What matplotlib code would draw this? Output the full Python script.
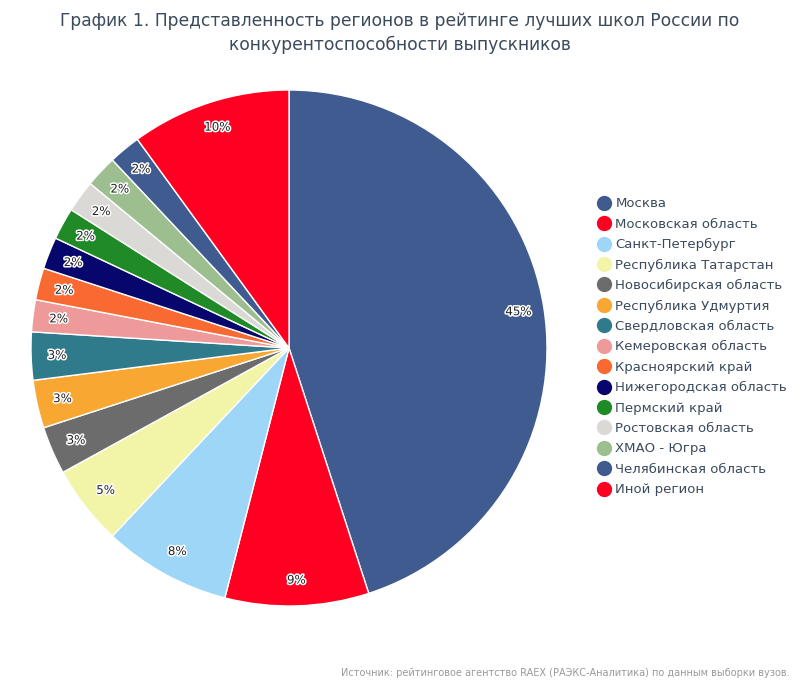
import matplotlib
matplotlib.use("Agg")
import matplotlib.pyplot as plt
import matplotlib.patheffects as pe
from matplotlib.lines import Line2D

# --- Data ---
regions = [
    "Москва", "Московская область", "Санкт-Петербург", "Республика Татарстан",
    "Новосибирская область", "Республика Удмуртия", "Свердловская область",
    "Кемеровская область", "Красноярский край", "Нижегородская область",
    "Пермский край", "Ростовская область", "ХМАО - Югра",
    "Челябинская область", "Иной регион",
]
shares = [45, 9, 8, 5, 3, 3, 3, 2, 2, 2, 2, 2, 2, 2, 10]
colors = [
    "#3f5b8f", "#ff0022", "#9dd6f7", "#f2f4a8", "#6c6c6c", "#f8a733", "#2f7b8c",
    "#ef9a9a", "#f96a32", "#06066d", "#1f8a26", "#dbd9d5", "#9dbf90",
    "#3f5b8f", "#ff0022",
]

title = ("График 1. Представленность регионов в рейтинге лучших школ России по\n"
         "конкурентоспособности выпускников")
source = "Источник: рейтинговое агентство RAEX (РАЭКС-Аналитика) по данным выборки вузов."

W, H = 800, 684
fig = plt.figure(figsize=(W / 100, H / 100), dpi=100)
fig.patch.set_facecolor("white")

# pie centre ~ (289, 348) px, radius ~ 258 px
cx, cy, r = 289, 348, 258
ax = fig.add_axes([(cx - r) / W, (H - cy - r) / H, 2 * r / W, 2 * r / H])
wedges, texts, autotexts = ax.pie(
    shares, colors=colors, startangle=90, counterclock=False,
    autopct=lambda p: f"{p:.0f}%", pctdistance=0.9,
    wedgeprops=dict(edgecolor="white", linewidth=1),
    textprops=dict(fontsize=8.5, color="#222222"),
)
for t in autotexts:
    t.set_path_effects([pe.withStroke(linewidth=2.2, foreground="white")])
ax.set_aspect("equal")
ax.set_xlim(-1, 1)
ax.set_ylim(-1, 1)

fig.text(0.5, 1 - 33 / H, title, ha="center", va="center", fontsize=12.3,
         color="#3b4a5c", family="DejaVu Sans", linespacing=1.35)

# legend
handles = [Line2D([0], [0], marker="o", linestyle="", markersize=10,
                  markerfacecolor=c, markeredgecolor=c) for c in colors]
leg = fig.legend(handles, regions, loc="upper left",
                 bbox_to_anchor=(591 / W, 1 - 192 / H), frameon=False,
                 fontsize=9.5, labelspacing=0.56, handletextpad=0.25,
                 handlelength=1.2, borderaxespad=0)
for t in leg.get_texts():
    t.set_color("#3b4a5c")

fig.text(790 / W, 1 - 673 / H, source, ha="right", va="center",
         fontsize=7, color="#9a9a9a")

fig.savefig("out.png", dpi=100, facecolor="white")
